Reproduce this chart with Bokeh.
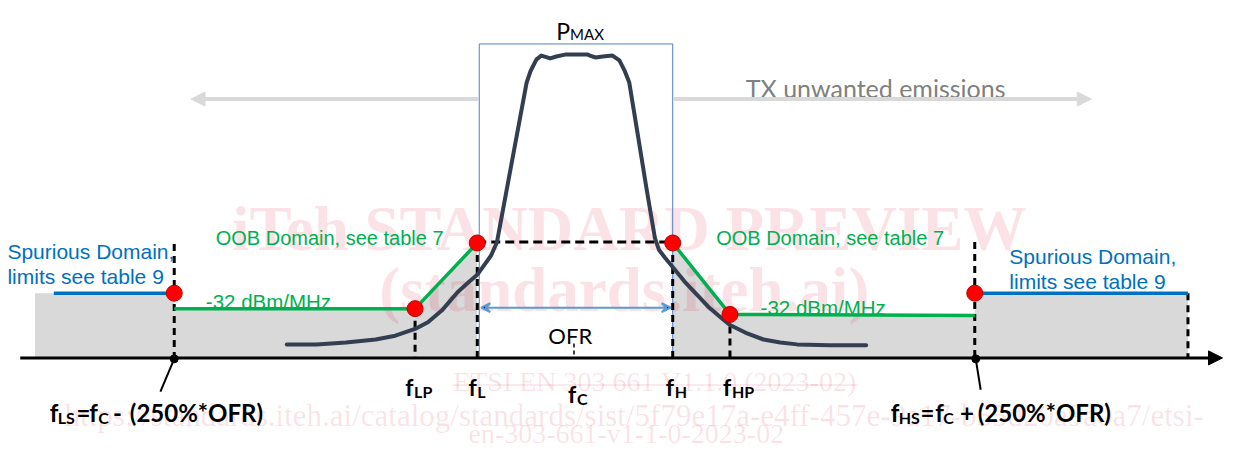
from bokeh.plotting import figure
from bokeh.models import Range1d, Arrow, NormalHead, VeeHead
from bokeh.core.properties import value
from bokeh.embed import file_html
from bokeh.resources import INLINE

# ---------------- data (diagram coordinates) ----------------
axis_y = 370
freq_names = ["f_LS", "f_LP", "f_L", "f_C", "f_H", "f_HP", "f_HS", "f_end"]
freq_pos = [176, 420, 483, 581, 681, 739, 987, 1203]

# limit mask (gray area) left and right
mask_left_x = [35, 35, 176, 176, 420, 483, 483]
mask_left_y = [370, 303, 303, 319, 319, 251, 370]
mask_right_x = [681, 681, 739, 987, 987, 1203, 1203]
mask_right_y = [370, 251, 325, 326, 303, 303, 370]

# spurious limits (blue)
spur_left_x = [54, 176]
spur_left_y = [303, 303]
spur_right_x = [987, 1203]
spur_right_y = [303, 303]

# OOB limits (green)
oob_left_x = [176, 420, 483]
oob_left_y = [319, 319, 251]
oob_right_x = [681, 739, 987]
oob_right_y = [251, 325, 326]

# red limit points
pts_x = [176, 420, 483, 681, 739, 987]
pts_y = [303, 319, 251, 251, 325, 303]

# dashed verticals
dash_x = [176, 420, 483, 681, 739, 987, 1203]
dash_top = [252, 319, 251, 251, 325, 250, 303]

# emission spectrum
emis_x = [290, 320, 350, 380, 400, 420, 433, 447, 463, 475,
          483, 490, 497, 503, 515, 525, 533, 537, 543, 548,
          557, 563, 572, 595, 597, 603, 610, 620, 627, 632,
          637, 645, 655, 663, 667, 673, 681, 693, 705, 717,
          733, 739, 755, 773, 790, 807, 840, 877]
emis_y = [356, 356, 354, 351, 347, 340, 333, 321, 302, 291,
          284, 274, 264, 250, 184, 129, 85, 73, 61, 57,
          60, 58, 56, 56, 57, 59, 58, 57, 62, 72,
          85, 135, 198, 246, 258, 266, 276, 291, 304, 317,
          331, 336, 344, 351, 354, 356, 357, 357]

# OFR box
box_x = [485, 485, 681, 681]
box_y = [370, 45, 45, 370]

# ---------------- figure ----------------
W, H = 1223, 454
p = figure(width=W, height=H, x_range=Range1d(0, 1239), y_range=Range1d(470, 0),
           output_backend="svg", toolbar_location=None, min_border=0,
           x_axis_location=None, y_axis_location=None)
p.grid.visible = False
p.outline_line_color = None
p.background_fill_color = "white"
p.border_fill_color = "white"

GRAY = "#d9d9d9"
GREEN = "#00b050"
BLUE = "#0070c0"
DARK = "#333f50"
ARIAL = value("Liberation Sans")
CAL = value("Lato")

p.patch(mask_left_x, mask_left_y, fill_color=GRAY, line_color=None)
p.patch(mask_right_x, mask_right_y, fill_color=GRAY, line_color=None)

# watermark
WM = "#dc143c"
wm_a = 0.12
SERIF = value("Liberation Serif")
p.text([637], [237], text=["iTeh STANDARD PREVIEW"], text_font=SERIF, text_font_style="bold",
       text_font_size="63px", text_color=WM, text_alpha=wm_a, text_align="center", text_baseline="alphabetic")
p.text([632], [300], text=["(standards.iteh.ai)"], text_font=SERIF, text_font_style="bold",
       text_font_size="63px", text_color=WM, text_alpha=wm_a, text_align="center", text_baseline="alphabetic")
p.text([663], [394], text=["ETSI EN 303 661 V1.1.0 (2023-02)"], text_font=SERIF,
       text_font_size="28px", text_color=WM, text_alpha=wm_a, text_align="center", text_baseline="alphabetic")
p.line([458, 868], [398, 398], line_color=WM, line_alpha=wm_a, line_width=1.5)
p.text([642], [430], text=["https://standards.iteh.ai/catalog/standards/sist/5f79e17a-e4ff-457e-9a17-b55d20a9a0a7/etsi-"],
       text_font=SERIF, text_font_size="31px", text_color=WM, text_alpha=wm_a, text_align="center", text_baseline="alphabetic")
p.text([634], [448], text=["en-303-661-v1-1-0-2023-02"], text_font=SERIF,
       text_font_size="28px", text_color=WM, text_alpha=wm_a, text_align="center", text_baseline="alphabetic")

# box
p.line(box_x, box_y, line_color="#4f81bd", line_width=1)

# gray arrows
p.add_layout(Arrow(end=NormalHead(size=14, fill_color=GRAY, line_color=GRAY),
                   x_start=484, y_start=102, x_end=193, y_end=102, line_color=GRAY, line_width=4))
p.add_layout(Arrow(end=NormalHead(size=14, fill_color=GRAY, line_color=GRAY),
                   x_start=682, y_start=102, x_end=1105, y_end=102, line_color=GRAY, line_width=4))

# dashed lines
for x, t in zip(dash_x, dash_top):
    p.line([x, x], [t, axis_y], line_color="black", line_width=3, line_dash="7 5")
p.line([483, 681], [250, 250], line_color="black", line_width=3, line_dash="9 5")
p.line([581, 581], [355, axis_y], line_color="black", line_width=1.5, line_dash="4 3")

# limit lines
p.line(spur_left_x, spur_left_y, line_color=BLUE, line_width=3.5)
p.line(spur_right_x, spur_right_y, line_color=BLUE, line_width=3.5)
p.line(oob_left_x, oob_left_y, line_color=GREEN, line_width=3.5)
p.line(oob_right_x, oob_right_y, line_color=GREEN, line_width=3.5)

# emission curve
p.line(emis_x, emis_y, line_color=DARK, line_width=4, line_join="round", line_cap="round")

# OFR arrow
p.add_layout(Arrow(start=VeeHead(size=9, line_color="#5b9bd5", line_width=2),
                   end=VeeHead(size=9, line_color="#5b9bd5", line_width=2),
                   x_start=487, y_start=318, x_end=679, y_end=318, line_color="#5b9bd5", line_width=2))

# frequency axis
p.add_layout(Arrow(end=NormalHead(size=14, fill_color="black", line_color="black"),
                   x_start=20, y_start=axis_y, x_end=1238, y_end=axis_y, line_color="black", line_width=3))

# red points
p.scatter(pts_x, pts_y, size=16, fill_color="#ff0000", line_color="#c00000", line_width=1)

# axis dots and leaders
p.scatter([176, 988], [371, 371], size=8, fill_color="black", line_color="black")
p.line([176, 162], [371, 405], line_color="black", line_width=2)
p.line([988, 993], [371, 403], line_color="black", line_width=2)

# texts
def txt(x, y, s, size, color="black", font=ARIAL, style="normal", align="left"):
    p.text([x], [y], text=[s], text_font=font, text_font_size=size, text_color=color,
           text_font_style=style, text_align=align, text_baseline="alphabetic")

txt(7, 260, "Spurious Domain,", "21px", BLUE)
txt(7, 286, "limits see table 9", "21px", BLUE)
txt(1022, 265, "Spurious Domain,", "21px", BLUE)
txt(1022, 291, "limits see table 9", "21px", BLUE)
txt(218, 246, "OOB Domain, see table 7", "20px", GREEN)
txt(725, 246, "OOB Domain, see table 7", "20px", GREEN)
txt(208, 312, "-32 dBm/MHz", "20.5px", GREEN)
txt(770, 318, "-32 dBm/MHz", "20.5px", GREEN)

txt(755, 91, "TX unwanted emissions", "25px", "#808080", CAL)
txt(563, 32, "P", "23px", "black", CAL)
txt(577, 35, "MAX", "15px", "black", CAL)
txt(555, 347, "OFR", "22px", "black", CAL)

# frequency labels
sub_lbl = ["LP", "L", "C", "H", "HP"]
f_lbl_x = [410, 474, 575, 674, 732]
f_lbl_y = [400, 400, 407, 400, 400]
for s, x, y in zip(sub_lbl, f_lbl_x, f_lbl_y):
    txt(x, y, "f", "23px", "black", CAL, "bold")
    txt(x + 9, y + 5, s, "16px", "black", CAL, "bold")

# formulas
formula_parts = ["f", "LS", "=", "f", "C", "-", "(250%*OFR)"]
left_x = [50, 58, 77, 90, 99, 114, 131]
right_parts = ["f", "HS", "=", "f", "C", "+", "(250%*OFR)"]
right_x = [902, 910, 932, 947, 955, 972, 990]
is_sub = [False, True, False, False, True, False, False]
for parts, xs in ((formula_parts, left_x), (right_parts, right_x)):
    for s, x, sub in zip(parts, xs, is_sub):
        if sub:
            txt(x, 432, s, "16px", "black", CAL, "bold")
        else:
            txt(x, 427, s, "24px", "black", CAL, "bold")

open("out.html", "w").write(file_html(p, INLINE))
